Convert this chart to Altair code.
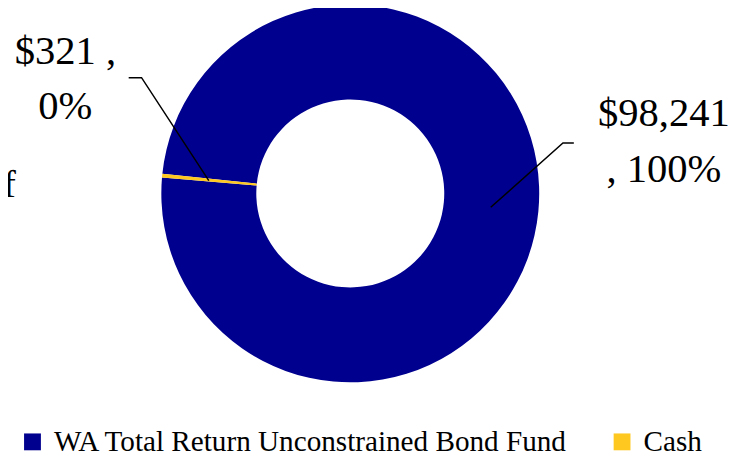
import math
import altair as alt
import pandas as pd

# ---- data ----
categories = ["WA Total Return Unconstrained Bond Fund", "Cash"]
amounts = [98241, 321]
percents = ["100%", "0%"]
colors = ["#00008E", "#FFC820"]

# label text split as in the original
label_texts = [
    [f"${amounts[0]:,}", f", {percents[0]}"],
    [f"${amounts[1]:,} ,", f"{percents[1]}"],
]

# ---- layout (pixel positions of annotations) ----
W, H = 742, 454
CX, CY = 346, 185
R_OUT, R_IN = 191, 95
start = math.radians(-84)

df = pd.DataFrame({"category": categories, "value": amounts, "order": [0, 1]})

arc = alt.Chart(df).mark_arc(outerRadius=R_OUT, innerRadius=R_IN).encode(
    theta=alt.Theta("value:Q", stack=True,
                    scale=alt.Scale(range=[start, start + 2 * math.pi])),
    order=alt.Order("order:Q"),
    color=alt.Color(
        "category:N",
        scale=alt.Scale(domain=categories, range=colors),
        sort=categories,
        legend=alt.Legend(
            title=None, orient="none", legendX=10, legendY=421,
            direction="horizontal", symbolType="square", symbolSize=290,
            symbolStrokeWidth=0, labelFont="Liberation Serif", labelFontSize=29.5,
            labelColor="#000000", labelLimit=700, labelOffset=7,
            columnPadding=39, symbolOpacity=1,
        ),
    ),
    x=alt.value(CX),
    y=alt.value(CY),
)

lab_df = pd.DataFrame({
    "text": label_texts,
    "px": [663, 58],
    "py": [117, 54],
})
labels = alt.Chart(lab_df).mark_text(
    font="Liberation Serif", fontSize=41, lineHeight=56, align="center",
    baseline="alphabetic", color="#000000",
).encode(
    x=alt.X("px:Q", scale=None),
    y=alt.Y("py:Q", scale=None),
    text="text",
)

of_df = pd.DataFrame({"text": ["of"], "px": [8], "py": [189]})
of_text = alt.Chart(of_df).mark_text(
    font="Liberation Serif", fontSize=39, align="right", baseline="alphabetic",
    color="#000000",
).encode(x=alt.X("px:Q", scale=None), y=alt.Y("py:Q", scale=None), text="text")

lines_df = pd.DataFrame({
    "seg": ["a", "a", "a", "b", "b", "b"],
    "i": [0, 1, 2, 0, 1, 2],
    "px": [488, 561, 572, 203, 135, 122],
    "py": [199, 134, 134, 172, 68, 68],
})
leaders = alt.Chart(lines_df).mark_line(color="#000000", strokeWidth=1.5).encode(
    x=alt.X("px:Q", scale=None),
    y=alt.Y("py:Q", scale=None),
    detail="seg:N",
    order="i:Q",
)

chart = alt.layer(arc, leaders, labels, of_text).properties(
    width=W, height=H, padding=0, autosize=alt.AutoSizeParams(type="none"),
).configure_view(stroke=None)

chart.save("out.html", embed_options={"renderer": "svg", "actions": False})
